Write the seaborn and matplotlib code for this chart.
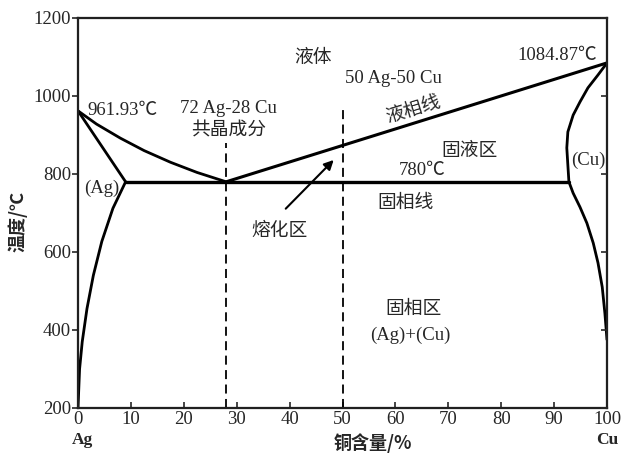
import numpy as np
import pandas as pd
import seaborn as sns
import matplotlib.pyplot as plt

# Ag-Cu phase diagram
# Ag-rich liquidus (Cu wt%, temperature C)
liq_ag_x = [0, 3.5, 8.0, 12.5, 17.5, 22.5, 28]
liq_ag_t = [961.93, 928, 892, 860, 830, 804, 780]
# Cu-rich liquidus (straight)
liq_cu_x = [28, 100]
liq_cu_t = [780, 1084.87]
# Ag-rich solidus and solvus
sol_ag_x = [0, 9.0]
sol_ag_t = [961.93, 780]
solv_ag_x = [9.0, 6.6, 4.5, 2.9, 1.7, 0.8, 0.3, 0]
solv_ag_t = [780, 712, 627, 540, 455, 370, 300, 200]
# Cu-rich solidus and solvus
sol_cu_x = [100, 98.3, 96.4, 94.9, 93.6, 92.6, 92.4, 92.6, 92.8]
sol_cu_t = [1084.87, 1054, 1021, 985, 951, 908, 867, 823, 780]
solv_cu_x = [92.8, 93.6, 94.9, 96.2, 97.4, 98.3, 99.1, 99.6, 100]
solv_cu_t = [780, 751, 715, 674, 623, 572, 510, 443, 375]
# eutectic isotherm
eut_x = [9.0, 92.8]
eut_t = [780, 780]
# dashed composition lines
dash_x = [28, 50]
dash_top = [879, 969]

sns.set_theme(style="ticks")
plt.rcParams['font.family'] = ['Liberation Serif', 'Noto Sans CJK SC', 'DejaVu Sans']
cjk = ['Noto Sans CJK SC', 'DejaVu Sans']
num = ['Liberation Serif', 'Noto Sans CJK SC', 'DejaVu Sans']

fig = plt.figure(figsize=(6.21, 4.54), dpi=100)
ax = fig.add_axes([78 / 621, 1 - 408 / 454, 529 / 621, 390 / 454])

curves = [(liq_ag_x, liq_ag_t, 2.0), (liq_cu_x, liq_cu_t, 2.2),
          (sol_ag_x, sol_ag_t, 2.0), (solv_ag_x, solv_ag_t, 2.0),
          (sol_cu_x, sol_cu_t, 2.0), (solv_cu_x, solv_cu_t, 2.0),
          (eut_x, eut_t, 2.4)]
for xs, ts, lw in curves:
    sns.lineplot(x=xs, y=ts, sort=False, color='black', lw=lw, ax=ax,
                 estimator=None, solid_capstyle='round', solid_joinstyle='round')

for xd, top in zip(dash_x, dash_top):
    sns.lineplot(x=[xd, xd], y=[200, top], color='black', lw=1.3,
                 ls=(0, (5, 3)), ax=ax, estimator=None)

ax.set_xlim(0, 100)
ax.set_ylim(200, 1200)
ax.set_xticks(np.arange(0, 101, 10))
ax.set_yticks(np.arange(200, 1201, 200))
ax.tick_params(axis='x', direction='in', length=4, width=1.2, labelsize=13.5, pad=2)
ax.tick_params(axis='y', direction='out', length=4, width=1.2, labelsize=13.5, pad=1)
for s in ax.spines.values():
    s.set_linewidth(1.6)
    s.set_color('black')
ax2 = ax.twinx()
ax2.set_ylim(200, 1200)
ax2.set_yticks(np.arange(200, 1201, 200))
ax2.tick_params(axis='y', direction='in', length=4, width=1.2, labelright=False)

ax.set_xlabel('铜含量/%', family=cjk, fontsize=13, fontweight='bold')
ax.xaxis.set_label_coords(0.558, -0.064)
ax.set_ylabel('温度/℃', family=cjk, fontsize=13, fontweight='bold')
ax.yaxis.set_label_coords(-0.095, 0.477)

fs = 13.5
fc = 13.5
ax.text(1.8, 964, '961.93℃', family=num, fontsize=fs, va='center', ha='left')
ax.text(28.5, 969, '72 Ag-28 Cu', family=num, fontsize=fs, va='center', ha='center')
ax.text(28.5, 913, '共晶成分', family=cjk, fontsize=fc, va='center', ha='center')
ax.text(44.5, 1100, '液体', family=cjk, fontsize=fc, va='center', ha='center')
ax.text(59.6, 1046, '50 Ag-50 Cu', family=num, fontsize=fs, va='center', ha='center')
ax.text(63.4, 966, '液相线', family=cjk, fontsize=fc, va='center', ha='center', rotation=17)
ax.text(74, 861, '固液区', family=cjk, fontsize=fc, va='center', ha='center')
ax.text(65, 810, '780℃', family=num, fontsize=fs, va='center', ha='center')
ax.text(90.6, 1105, '1084.87℃', family=num, fontsize=fs, va='center', ha='center')
ax.text(96.4, 836, '(Cu)', family=num, fontsize=fs, va='center', ha='center')
ax.text(4.4, 764, '(Ag)', family=num, fontsize=fs, va='center', ha='center')
ax.text(62, 728, '固相线', family=cjk, fontsize=fc, va='center', ha='center')
ax.text(38, 656, '熔化区', family=cjk, fontsize=fc, va='center', ha='center')
ax.text(63.4, 456, '固相区', family=cjk, fontsize=fc, va='center', ha='center')
ax.text(62.8, 387, '(Ag)+(Cu)', family=num, fontsize=fs, va='center', ha='center')
ax.text(0.8, 118, 'Ag', family=num, fontsize=12.5, fontweight='bold', va='center', ha='center')
ax.text(100, 118, 'Cu', family=num, fontsize=12.5, fontweight='bold', va='center', ha='center')

ax.annotate('', xy=(48.7, 841), xytext=(38.9, 706),
            arrowprops=dict(arrowstyle='-|>', color='black', lw=1.5, mutation_scale=14))

fig.savefig('out.png', dpi=100)
